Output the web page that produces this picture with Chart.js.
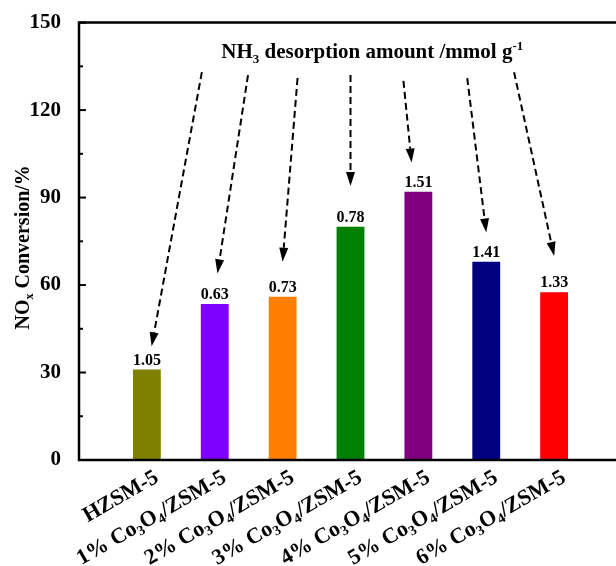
<!DOCTYPE html>
<html>
<head>
<meta charset="utf-8">
<script src="https://cdn.jsdelivr.net/npm/chart.js@4.4.1/dist/chart.umd.min.js"></script>
<style>
html, body { margin: 0; padding: 0; background: #fff; overflow: hidden; }
#wrap { position: relative; width: 640px; height: 566px; }
</style>
</head>
<body>
<div id="wrap"><canvas id="chart" width="640" height="566"></canvas></div>
<script>
const samples = ["HZSM-5", "1% Co3O4/ZSM-5", "2% Co3O4/ZSM-5", "3% Co3O4/ZSM-5", "4% Co3O4/ZSM-5", "5% Co3O4/ZSM-5", "6% Co3O4/ZSM-5"];
const conversion = [31, 53.5, 56, 80, 92, 68, 57.5];
const nh3Amount = ["1.05", "0.63", "0.73", "0.78", "1.51", "1.41", "1.33"];
const barColors = ["#808000", "#8000ff", "#ff8000", "#008000", "#800080", "#000080", "#ff0000"];
const yTicks = [0, 30, 60, 90, 120, 150];

// dashed arrows: start (sample position, value) -> tip (sample position, value)
const arrowStartPos = [0.81, 1.49, 2.22, 3.0, 3.78, 4.72, 5.41];
const arrowStartVal = [133, 132, 131, 132, 130, 131, 133];
const arrowTipPos = [0.07, 1.04, 2.0, 3.0, 3.9, 5.0, 6.0];
const arrowTipVal = [39, 64, 68, 94, 102, 78, 70];

const FONT = "'Liberation Serif', 'Times New Roman', serif";

function labelParts(s) {
    const m = s.match(/^(.*Co)(\d)(O)(\d)(.*)$/);
    if (!m) return [[s, 0]];
    return [[m[1], 0], [m[2], 1], [m[3], 0], [m[4], 1], [m[5], 0]];
}

function setFont(ctx, size, mode) {
    const s = mode === 0 ? size : Math.round(size * 0.62);
    ctx.font = "bold " + s + "px " + FONT;
}

function drawRich(ctx, parts, x, y, size, align) {
    let total = 0;
    parts.forEach(p => { setFont(ctx, size, p[1]); total += ctx.measureText(p[0]).width; });
    let cx = x;
    if (align === "right") cx = x - total;
    else if (align === "center") cx = x - total / 2;
    ctx.textAlign = "left";
    parts.forEach(p => {
        setFont(ctx, size, p[1]);
        let dy = 0;
        if (p[1] === 1) dy = size * 0.28;
        if (p[1] === 2) dy = -size * 0.38;
        ctx.fillText(p[0], cx, y + dy);
        cx += ctx.measureText(p[0]).width;
    });
}

function arrow(ctx, x1, y1, x2, y2) {
    const ang = Math.atan2(y2 - y1, x2 - x1);
    const head = 14;
    const bx = x2 - head * Math.cos(ang);
    const by = y2 - head * Math.sin(ang);
    ctx.setLineDash([7, 4]);
    ctx.lineWidth = 2;
    ctx.beginPath();
    ctx.moveTo(x1, y1);
    ctx.lineTo(bx, by);
    ctx.stroke();
    ctx.setLineDash([]);
    ctx.beginPath();
    ctx.moveTo(x2, y2);
    ctx.lineTo(bx + 4.5 * Math.sin(ang), by - 4.5 * Math.cos(ang));
    ctx.lineTo(bx - 4.5 * Math.sin(ang), by + 4.5 * Math.cos(ang));
    ctx.closePath();
    ctx.fill();
}

const decor = {
    id: "decor",
    afterDraw(chart) {
        const ctx = chart.ctx;
        const a = chart.chartArea;
        const x = chart.scales.x;
        const y = chart.scales.y;
        ctx.save();
        ctx.fillStyle = "#000";
        ctx.strokeStyle = "#000";

        // frame: left, bottom, top
        ctx.lineWidth = 2.5;
        ctx.beginPath();
        ctx.moveTo(a.right + 5, a.top);
        ctx.lineTo(a.left, a.top);
        ctx.lineTo(a.left, a.bottom);
        ctx.lineTo(a.right + 5, a.bottom);
        ctx.stroke();

        // inward ticks on y axis
        ctx.lineWidth = 2;
        for (let v = 0; v <= 150; v += 15) {
            const py = y.getPixelForValue(v);
            const len = v % 30 === 0 ? 7 : 4;
            ctx.beginPath();
            ctx.moveTo(a.left, py);
            ctx.lineTo(a.left + len, py);
            ctx.stroke();
        }

        // NH3 amounts above bars
        const meta = chart.getDatasetMeta(0);
        ctx.textBaseline = "bottom";
        nh3Amount.forEach((t, i) => {
            const bar = meta.data[i + 1];
            drawRich(ctx, [[t, 0]], bar.x, bar.y - 1, 16, "center");
        });

        // arrows
        for (let i = 0; i < arrowStartPos.length; i++) {
            arrow(ctx,
                x.getPixelForValue(arrowStartPos[i] + 1), y.getPixelForValue(arrowStartVal[i]),
                x.getPixelForValue(arrowTipPos[i] + 1), y.getPixelForValue(arrowTipVal[i]));
        }

        // title inside plot
        ctx.textBaseline = "alphabetic";
        drawRich(ctx, [["NH", 0], ["3", 1], [" desorption amount /mmol g", 0], ["-1", 2]],
            x.getPixelForValue(4.32), y.getPixelForValue(138), 21, "center");

        // rotated category labels
        ctx.textBaseline = "middle";
        samples.forEach((s, i) => {
            ctx.save();
            ctx.translate(x.getPixelForValue(i + 1) + 10, a.bottom + 16);
            ctx.rotate(-30 * Math.PI / 180);
            drawRich(ctx, labelParts(s), 0, 0, 22, "right");
            ctx.restore();
        });

        // y axis title
        ctx.save();
        ctx.translate(24, (a.top + a.bottom) / 2 + 6);
        ctx.rotate(-Math.PI / 2);
        drawRich(ctx, [["NO", 0], ["x", 1], [" Conversion/%", 0]], 0, 0, 20, "center");
        ctx.restore();

        ctx.restore();
    }
};

new Chart(document.getElementById("chart"), {
    type: "bar",
    data: {
        labels: ["", ...samples, ""],
        datasets: [{
            data: [null, ...conversion, null],
            backgroundColor: ["transparent", ...barColors, "transparent"],
            borderWidth: 0,
            barPercentage: 0.41,
            categoryPercentage: 1
        }]
    },
    options: {
        responsive: false,
        animation: false,
        devicePixelRatio: 1,
        layout: { padding: { left: 0, top: 22, right: 18, bottom: 0 } },
        plugins: {
            legend: { display: false },
            tooltip: { enabled: false }
        },
        scales: {
            x: {
                offset: false,
                grid: { display: false },
                border: { display: false },
                ticks: { display: false },
                afterFit(s) { s.height = 106; }
            },
            y: {
                min: 0,
                max: 150,
                afterBuildTicks(s) { s.ticks = yTicks.map(v => ({ value: v })); },
                grid: { display: false },
                border: { display: false },
                ticks: {
                    color: "#000",
                    padding: 10,
                    font: { family: FONT, size: 21, weight: "bold" }
                },
                afterFit(s) { s.width = 79; }
            }
        }
    },
    plugins: [decor]
});
</script>
</body>
</html>
